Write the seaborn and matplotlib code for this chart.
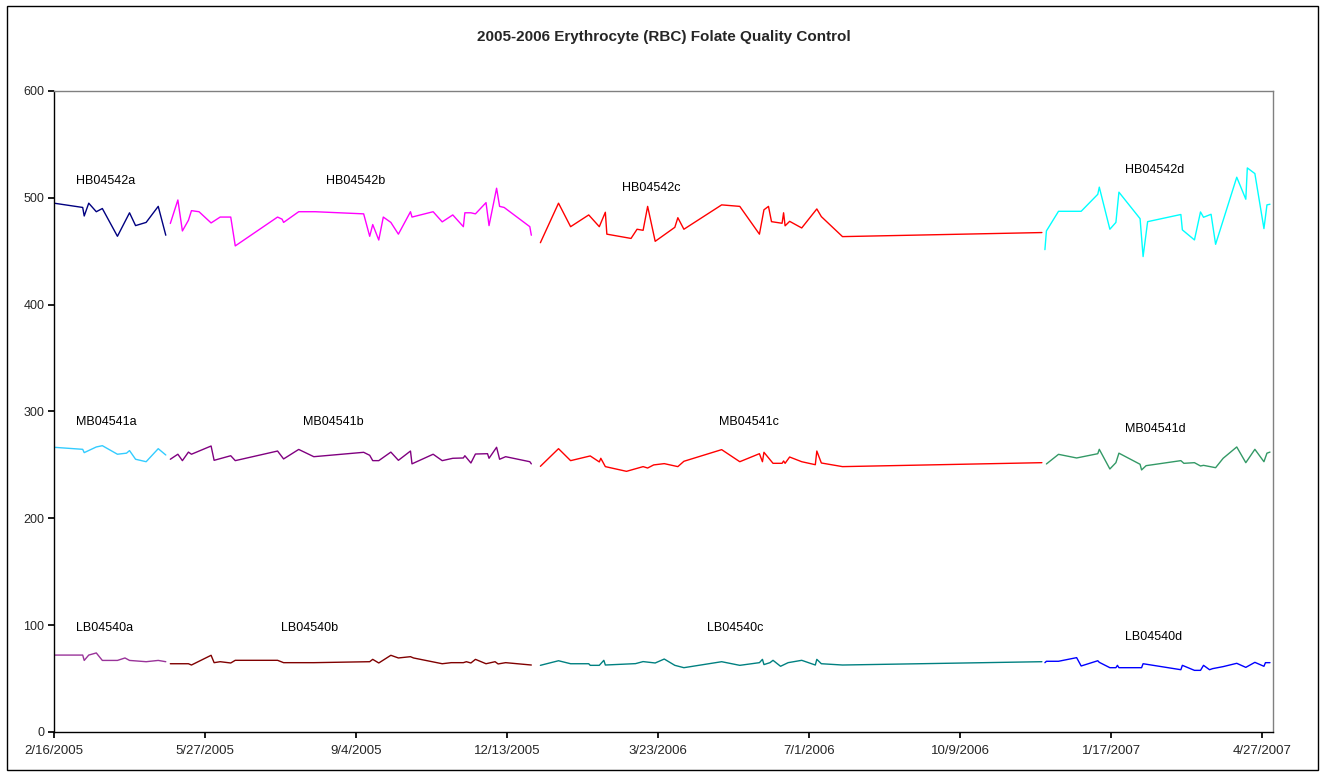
import pandas as pd
import numpy as np
import matplotlib
matplotlib.use("Agg")
import matplotlib.pyplot as plt
from matplotlib.patches import Rectangle
import seaborn as sns

START = pd.Timestamp("2005-02-16")

# ---- data: days since 2/16/2005 and values ----
hb_a_days = [0, 19, 20, 23, 28, 32, 42, 50, 54, 61, 69, 74]
hb_a_vals = [495, 491, 483, 495, 487, 490, 464, 486, 474, 477, 492, 465]

mb_a_days = [0, 19, 20, 28, 32, 42, 48, 50, 54, 61, 69, 74]
mb_a_vals = [266.5, 264.6, 261.5, 266.8, 268, 260, 261, 263.4, 255.3, 253, 265.2, 259.3]

lb_a_days = [0, 19, 20, 23, 28, 32, 42, 47, 50, 61, 69, 74]
lb_a_vals = [72, 72, 67, 72, 74, 67, 67, 69.3, 67, 65.8, 67, 65.8]

hb_b_days = [77, 82, 85, 89, 91, 96, 104, 110, 117, 120, 148, 151, 152, 162, 173,
             205, 209, 211, 215, 218, 223, 228, 236, 237, 251, 257, 264, 271, 272,
             276, 279, 286, 288, 293, 295, 298, 315, 316]
hb_b_vals = [476, 498, 469, 479, 488, 487, 476.5, 482, 482, 455, 482, 480, 477, 487, 487,
             485, 464, 475, 460.5, 482, 477, 466, 487, 482, 487, 477.5, 484, 473, 486,
             486, 485, 495.5, 474, 509, 492, 491, 473, 465]

mb_b_days = [77, 82, 85, 89, 91, 104, 106, 117, 120, 148, 152, 162, 172, 205, 209,
             211, 215, 223, 228, 236, 237, 251, 257, 264, 271, 272, 276, 279, 287,
             288, 293, 295, 299, 315, 316]
mb_b_vals = [255.3, 260, 254, 262, 260, 267.7, 254.3, 258.6, 254, 263, 255.6, 264.5, 257.7,
             261.8, 259, 254, 254, 262, 254.3, 263, 251, 260, 254, 256.2, 256.5, 258.6,
             251.8, 260.2, 260.5, 256.2, 266.5, 255.3, 257.7, 253, 251]

lb_b_days = [77, 89, 91, 104, 106, 110, 117, 120, 148, 152, 172, 209, 211, 215, 223,
             228, 236, 238, 257, 263, 271, 273, 276, 279, 286, 292, 294, 299, 316]
lb_b_vals = [63.9, 63.9, 62.7, 71.8, 64.9, 65.8, 64.6, 67.1, 67.1, 64.9, 64.9, 65.8, 68,
             64.6, 71.8, 69.3, 70.5, 69.3, 63.9, 64.9, 64.9, 65.8, 64.6, 68, 63.9, 65.8,
             63.7, 64.9, 62.7]

hb_c_days = [322, 334, 342, 354, 361, 365, 366, 382, 386, 390, 393, 398, 411, 413, 417,
             442, 454, 467, 470, 473, 475, 482, 483, 484, 487, 495, 505, 508, 522, 654]
hb_c_vals = [458, 495, 473, 484, 473, 486.5, 466, 462, 470.6, 469.6, 492, 459.3, 472.4,
             481.4, 470.6, 493.4, 492, 466, 488.8, 492, 477.7, 476.2, 486, 473.8, 478,
             471.8, 489.6, 482.4, 463.7, 467.5]

mb_c_days = [322, 334, 342, 355, 361, 362, 365, 379, 390, 393, 397, 404, 413, 417, 442,
             454, 467, 469, 470, 476, 482, 483, 484, 487, 495, 504, 505, 508, 522, 654]
mb_c_vals = [248.7, 265.2, 254, 258.4, 252.8, 256.2, 248.4, 244, 248.4, 247.1, 250, 251.2,
             248.4, 253.4, 264.3, 253, 260.5, 253, 261.8, 251.5, 251.5, 253.7, 251.5,
             257.4, 253, 250.2, 263, 251.8, 248.4, 252.1]

lb_c_days = [322, 334, 342, 354, 355, 361, 364, 365, 385, 390, 398, 404, 411, 417, 442,
             454, 467, 469, 470, 474, 476, 481, 486, 495, 504, 505, 508, 522, 654]
lb_c_vals = [62.4, 66.7, 63.9, 63.9, 62.4, 62.4, 67.1, 62.7, 64, 65.9, 64.6, 68.3, 62.4,
             60.2, 65.8, 62.4, 64.9, 68, 63.1, 64.9, 67.1, 61.5, 64.9, 67.1, 62.7, 68,
             63.9, 62.7, 65.8]

hb_d_days = [656, 657, 665, 680, 691, 692, 699, 703, 705, 719, 721, 724, 746, 747, 755,
             759, 761, 766, 769, 783, 789, 790, 795, 801, 803, 805]
hb_d_vals = [451.5, 469, 487.4, 487.4, 503.3, 510, 470.6, 477, 505.3, 480.5, 445, 477.7,
             484.4, 470, 460.6, 486.8, 481.8, 484.6, 456.5, 519.3, 498.7, 528, 522.7,
             471.2, 493.4, 494]

mb_d_days = [657, 665, 677, 691, 692, 699, 703, 705, 719, 720, 723, 746, 748, 755, 759,
             761, 769, 774, 783, 789, 795, 801, 803, 805]
mb_d_vals = [250.9, 259.9, 256.5, 260.5, 264.6, 246.2, 252.1, 261, 250.6, 245.3, 249.3,
             254, 251.5, 252.1, 249, 249.6, 247.4, 256.2, 266.8, 252.1, 264.6, 253, 261, 262]

lb_d_days = [656, 657, 665, 677, 680, 691, 692, 699, 703, 704, 705, 720, 721, 746, 747,
             755, 759, 761, 765, 767, 774, 783, 789, 795, 801, 802, 805]
lb_d_vals = [64.9, 66.2, 66.2, 69.6, 61.8, 66.7, 65.2, 60.2, 60.2, 62.4, 60.2, 60.2, 63.9,
             58.3, 62.4, 57.7, 57.7, 62.4, 58.3, 59.3, 61.2, 64.3, 60.5, 65.2, 61.5,
             64.9, 64.9]

series_names = ["HB04542a", "HB04542b", "HB04542c", "HB04542d",
                "MB04541a", "MB04541b", "MB04541c", "MB04541d",
                "LB04540a", "LB04540b", "LB04540c", "LB04540d"]
series_days = [hb_a_days, hb_b_days, hb_c_days, hb_d_days,
               mb_a_days, mb_b_days, mb_c_days, mb_d_days,
               lb_a_days, lb_b_days, lb_c_days, lb_d_days]
series_vals = [hb_a_vals, hb_b_vals, hb_c_vals, hb_d_vals,
               mb_a_vals, mb_b_vals, mb_c_vals, mb_d_vals,
               lb_a_vals, lb_b_vals, lb_c_vals, lb_d_vals]

title = "2005-2006 Erythrocyte (RBC) Folate Quality Control"

# ---- styles ----
colors = {
    "HB04542a": "#000080", "HB04542b": "#FF00FF", "HB04542c": "#FF0000", "HB04542d": "#00FFFF",
    "MB04541a": "#33CCFF", "MB04541b": "#800080", "MB04541c": "#FF0000", "MB04541d": "#339966",
    "LB04540a": "#993399", "LB04540b": "#800000", "LB04540c": "#008080", "LB04540d": "#0000FF",
}
# label anchor (days, value)
label_pos = {
    "HB04542a": (14.5, 516), "HB04542b": (180, 516), "HB04542c": (376, 509), "HB04542d": (709, 526),
    "MB04541a": (14.5, 290), "MB04541b": (165, 290), "MB04541c": (440, 290), "MB04541d": (709, 284),
    "LB04540a": (14.5, 97), "LB04540b": (150, 97), "LB04540c": (432, 97), "LB04540d": (709, 89),
}

rows = []
for name, dd, vv in zip(series_names, series_days, series_vals):
    for i, (d, v) in enumerate(zip(dd, vv)):
        rows.append({"series": name, "date": START + pd.Timedelta(days=d), "value": v, "order": i})
df = pd.DataFrame(rows)

sns.set_theme(style="white")
plt.rcParams["font.family"] = ["Liberation Sans", "DejaVu Sans"]

fig = plt.figure(figsize=(13.26, 7.75), dpi=100)
ax = fig.add_axes([54 / 1326, 1 - 732 / 775, (1273 - 54) / 1326, (732 - 91) / 775])

sns.lineplot(data=df, x="date", y="value", hue="series", palette=colors,
             estimator=None, sort=False, legend=False, linewidth=1.0, ax=ax)

for name in series_names:
    d, v = label_pos[name]
    ax.text(START + pd.Timedelta(days=d), v, name, fontsize=9, ha="left", va="center",
            color="black")

ax.set_xlim(START, START + pd.Timedelta(days=807))
ax.set_ylim(0, 600)
ax.set_yticks(np.arange(0, 601, 100))
xt = [START + pd.Timedelta(days=100 * k) for k in range(9)]
ax.set_xticks(xt)
ax.set_xticklabels([f"{t.month}/{t.day}/{t.year}" for t in xt], fontsize=9.5)
ax.tick_params(axis="y", labelsize=9, length=4, direction="out", left=True, color="black", pad=3)
ax.tick_params(axis="x", length=4, direction="out", bottom=True, color="black", pad=5)
ax.set_xlabel("")
ax.set_ylabel("")
for s in ["left", "bottom"]:
    ax.spines[s].set_color("black")
    ax.spines[s].set_linewidth(1.0)
for s in ["top", "right"]:
    ax.spines[s].set_color("#808080")
    ax.spines[s].set_linewidth(1.0)
ax.grid(False)

fig.text(664 / 1326, 1 - 37 / 775, title, fontsize=11, fontweight="bold",
         ha="center", va="center")

fig.patches.append(Rectangle((7 / 1326, 5 / 775), 1311 / 1326, 764 / 775,
                             transform=fig.transFigure, fill=False,
                             edgecolor="black", linewidth=1.0))

fig.savefig("out.png", dpi=100)
